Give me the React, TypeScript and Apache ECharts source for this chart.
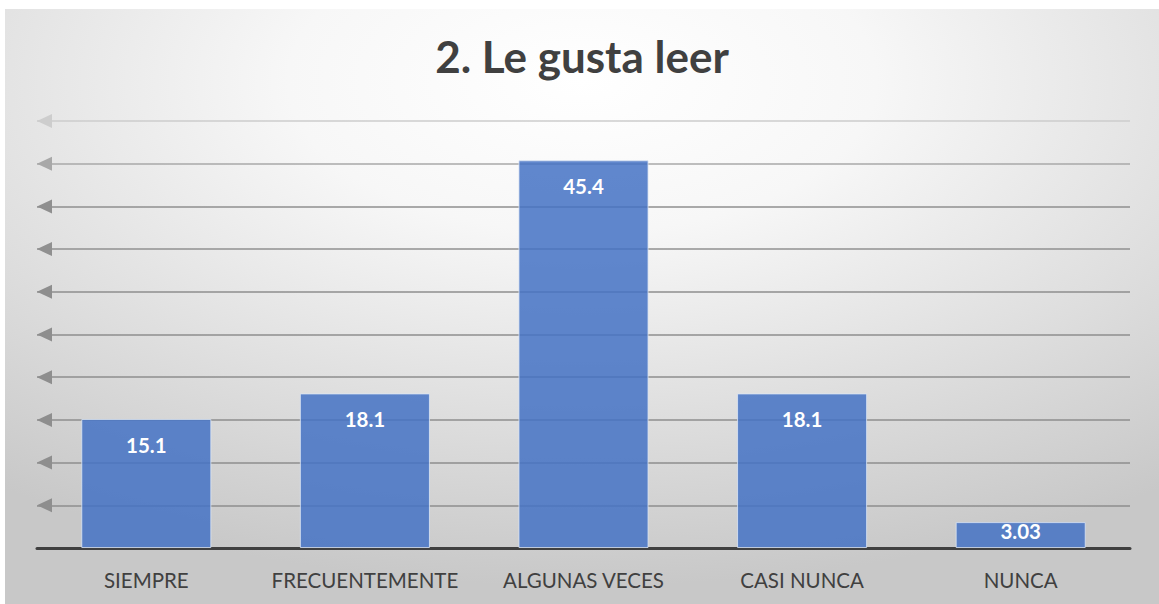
import React, { useEffect, useRef } from "react";
import * as echarts from "echarts";

const titleText = "2. Le gusta leer";
const categories = ["SIEMPRE", "FRECUENTEMENTE", "ALGUNAS VECES", "CASI NUNCA", "NUNCA"];
const values = [15.1, 18.1, 45.4, 18.1, 3.03];
const yMin = 0;
const yMax = 50;
const yStep = 5;
// colours of grid lines for values 0,5,...,50
const gridColors = ["#8e8e8e", "#8e8e8e", "#8e8e8e", "#8e8e8e", "#8e8e8e", "#8e8e8e", "#8e8e8e", "#909090", "#8f8f8f", "#a8a8a8", "#cdcdcd"];

export default function App() {
  const ref = useRef<HTMLDivElement>(null);
  useEffect(() => {
    if (!ref.current) return;
    const chart = echarts.init(ref.current, null, { renderer: "svg" });
    const font = "Lato, 'Open Sans', sans-serif";
    chart.setOption({
      animation: false,
      backgroundColor: new echarts.graphic.RadialGradient(0.5, 0.12, 0.85, [
        { offset: 0, color: "#ffffff" },
        { offset: 0.3, color: "#f7f7f7" },
        { offset: 1, color: "#c8c8c8" },
      ]),
      title: {
        text: titleText,
        left: "center",
        top: 20,
        textStyle: { fontFamily: font, fontWeight: "bold", fontSize: 44, color: "#404040" },
      },
      grid: { left: 32, right: 29, top: 112, bottom: 56, containLabel: false },
      xAxis: {
        type: "category",
        data: categories,
        axisLine: { show: true, lineStyle: { color: "#404040", width: 3 } },
        axisTick: { show: false },
        axisLabel: { color: "#404040", fontFamily: font, fontSize: 20.5, margin: 21, interval: 0 },
      },
      yAxis: {
        type: "value",
        min: yMin,
        max: yMax,
        interval: yStep,
        axisLine: { show: false },
        axisTick: { show: false },
        axisLabel: { show: false },
        splitLine: { show: true, lineStyle: { color: gridColors, width: 1.5 } },
      },
      series: [
        {
          type: "bar",
          data: values.map((v, i) =>
            i === values.length - 1
              ? { value: v, label: { distance: -2 } }
              : v
          ),
          barWidth: "59.5%",
          itemStyle: {
            color: "rgba(68,114,196,0.85)",
            borderColor: "rgba(220,230,245,0.8)",
            borderWidth: 1,
          },
          label: {
            show: true,
            position: "insideTop",
            distance: 15,
            color: "#ffffff",
            fontFamily: font,
            fontWeight: "bold",
            fontSize: 20.5,
          },
        },
      ],
    });
    // arrowheads at the left end of each grid line
    const arrows: any[] = [];
    const leftX = 32;
    for (let v = yMin + yStep, k = 1; v <= yMax; v += yStep, k++) {
      const py = chart.convertToPixel({ yAxisIndex: 0 }, v) as number;
      arrows.push({
        type: "polygon",
        z: 10,
        shape: {
          points: [
            [leftX, py],
            [leftX + 15, py - 7],
            [leftX + 15, py + 7],
          ],
        },
        style: { fill: gridColors[k] },
      });
    }
    chart.setOption({ graphic: arrows });
    return () => chart.dispose();
  }, []);
  return (
    <div
      ref={ref}
      style={{ position: "absolute", left: 5, top: 9, width: 1154, height: 595 }}
    />
  );
}
